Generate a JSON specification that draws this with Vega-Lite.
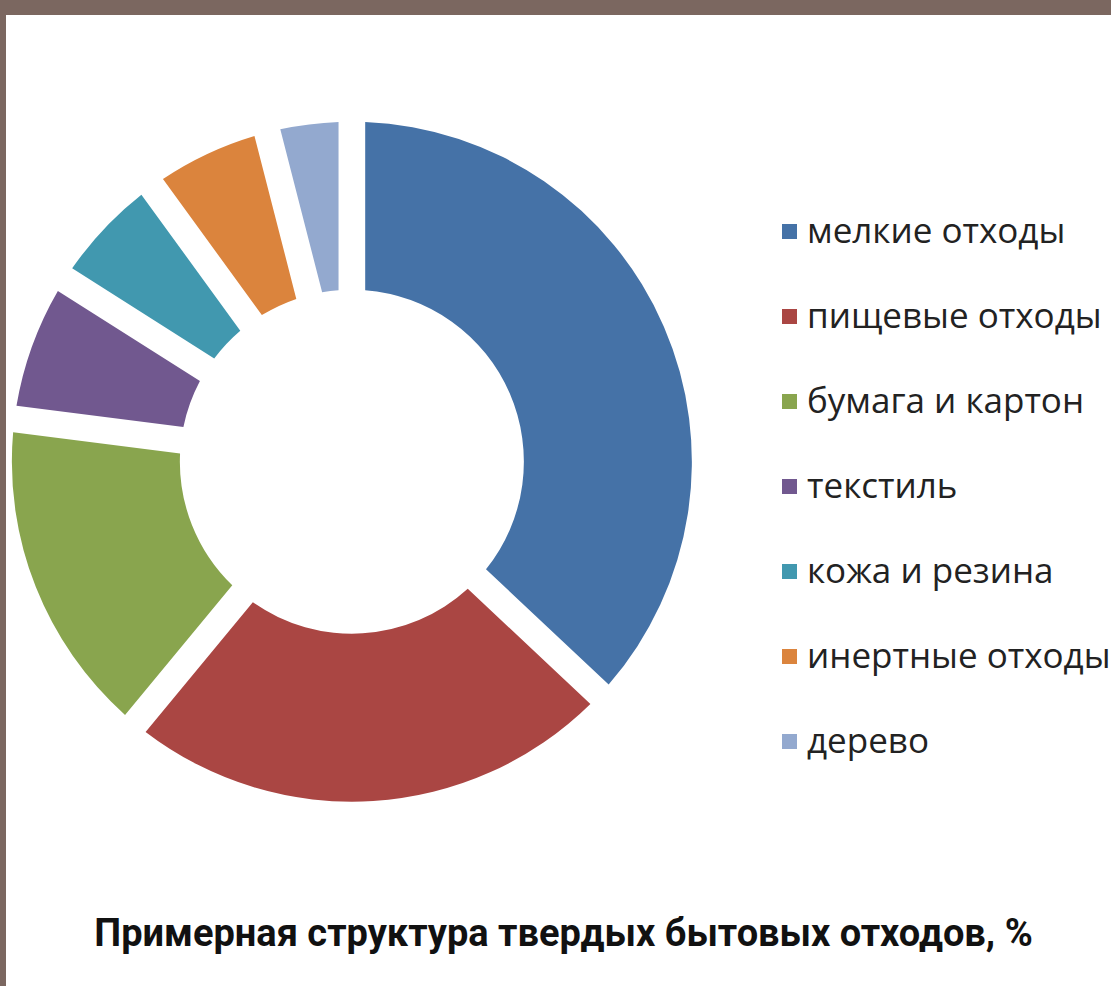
{
  "$schema": "https://vega.github.io/schema/vega-lite/v6.json",
  "width": 1111,
  "height": 986,
  "autosize": {"type": "fit", "contains": "padding"},
  "padding": {"top": 15, "left": 6, "right": 0, "bottom": 0},
  "background": "#7b6760",
  "config": {"view": {"fill": "white", "stroke": null}},
  "title": {
    "text": "Примерная структура твердых бытовых отходов, %",
    "orient": "bottom",
    "anchor": "middle",
    "frame": "group",
    "offset": -40,
    "baseline": "alphabetic",
    "dx": 5,
    "font": "Roboto",
    "fontSize": 38,
    "fontWeight": "bold",
    "color": "#111111"
  },
  "data": {
    "values": [
      {"n": 1, "category": "мелкие отходы", "value": 37},
      {"n": 2, "category": "пищевые отходы", "value": 24},
      {"n": 3, "category": "бумага и картон", "value": 16},
      {"n": 4, "category": "текстиль", "value": 7},
      {"n": 5, "category": "кожа и резина", "value": 6},
      {"n": 6, "category": "инертные отходы", "value": 6},
      {"n": 7, "category": "дерево", "value": 4}
    ]
  },
  "mark": {"type": "arc", "innerRadius": 172, "outerRadius": 340, "padAngle": 0.07},
  "encoding": {
    "theta": {"field": "value", "type": "quantitative", "stack": true},
    "order": {"field": "n", "type": "quantitative"},
    "color": {
      "field": "category",
      "type": "nominal",
      "sort": ["мелкие отходы", "пищевые отходы", "бумага и картон", "текстиль", "кожа и резина", "инертные отходы", "дерево"],
      "scale": {
        "domain": ["мелкие отходы", "пищевые отходы", "бумага и картон", "текстиль", "кожа и резина", "инертные отходы", "дерево"],
        "range": ["#4572A7", "#AA4643", "#89A54E", "#71588F", "#4198AF", "#DB843D", "#93A9CF"]
      },
      "legend": {
        "orient": "none",
        "legendX": 766,
        "legendY": 199,
        "title": null,
        "labelFont": "Open Sans",
        "labelFontSize": 35,
        "labelColor": "#222222",
        "symbolType": "square",
        "symbolSize": 225,
        "symbolStrokeWidth": 0,
        "symbolOpacity": 1,
        "rowPadding": 49,
        "labelOffset": 0,
        "padding": 0,
        "labelLimit": 400
      }
    },
    "x": {"datum": 0.313, "type": "quantitative", "scale": {"domain": [0, 1]}, "axis": null},
    "y": {"datum": 0.54, "type": "quantitative", "scale": {"domain": [0, 1]}, "axis": null}
  }
}
